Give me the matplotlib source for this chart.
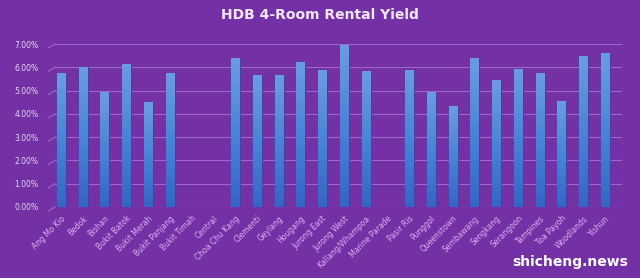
import matplotlib
matplotlib.use("Agg")
import matplotlib.pyplot as plt
from matplotlib.transforms import blended_transform_factory
from matplotlib.colors import LinearSegmentedColormap
import numpy as np

categories = ["Ang Mo Kio", "Bedok", "Bishan", "Bukit Batok", "Bukit Merah", "Bukit Panjang",
              "Bukit Timah", "Central", "Choa Chu Kang", "Clementi", "Geylang", "Hougang",
              "Jurong East", "Jurong West", "Kallang/Whampoa", "Marine Parade", "Pasir Ris",
              "Punggol", "Queenstown", "Sembawang", "Sengkang", "Serangoon", "Tampines",
              "Toa Payoh", "Woodlands", "Yishun"]
yields = [0.0572, 0.0601, 0.0490, 0.0612, 0.0449, 0.0575,
          0.0, 0.0, 0.0636, 0.0563, 0.0563, 0.0622,
          0.0586, 0.0693, 0.0584, 0.0, 0.0586,
          0.0490, 0.0433, 0.0636, 0.0545, 0.0591, 0.0575,
          0.0451, 0.0648, 0.0659]
yticks = [0.0, 0.01, 0.02, 0.03, 0.04, 0.05, 0.06, 0.07]
ytick_labels = ["0.00%", "1.00%", "2.00%", "3.00%", "4.00%", "5.00%", "6.00%", "7.00%"]

bg = "#7331A5"
fig = plt.figure(figsize=(6.4, 2.78), dpi=100, facecolor=bg)
ax = fig.add_axes([55/640, 1-207/278, 567/640, (207-44)/278])
ax.set_facecolor(bg)

x = np.arange(len(categories))
w = 0.38
bars = ax.bar(x, yields, width=w, color="#4A84D8", zorder=3, linewidth=0)
ax.bar(x + w/2 + 0.04, yields, width=0.08, color="#2A4FA0", zorder=3, linewidth=0)

# vertical gradient on bar fronts (lighter top, deeper bottom)
cmap = LinearSegmentedColormap.from_list("barg", ["#3565C6", "#4A84D8", "#6C9BE2"])
grad = np.linspace(0, 1, 64).reshape(-1, 1)
for b in bars:
    h = b.get_height()
    if h <= 0:
        continue
    x0 = b.get_x()
    ax.imshow(grad, extent=[x0, x0 + b.get_width(), 0, h], origin="lower",
              aspect="auto", cmap=cmap, zorder=3.5, interpolation="bilinear")

ax.set_xlim(-0.28, 25.78)
ax.set_ylim(0, 0.07)

# gridlines and perspective stubs
for v in yticks:
    ax.axhline(v, color="#9C67C9", lw=0.8, zorder=1)
trans = blended_transform_factory(ax.transAxes, ax.transData)
for v in yticks:
    ax.plot([-7/567, 0], [v - 0.0018, v], color="#9C67C9", lw=0.8,
            transform=trans, clip_on=False, zorder=1)

for s in ax.spines.values():
    s.set_visible(False)

ax.set_yticks(yticks)
ax.set_yticklabels(ytick_labels, fontsize=5.5, color="#E6D6F2")
ax.tick_params(axis="y", length=0, pad=12)
ax.set_xticks(x)
ax.set_xticklabels(categories, rotation=45, ha="right", rotation_mode="anchor",
                   fontsize=5.5, color="#D9B3F2")
ax.tick_params(axis="x", length=0, pad=5)

fig.text(0.5, 1-15/278, "HDB 4-Room Rental Yield", ha="center", va="center",
         fontsize=10, fontweight="bold", color="#F2E6F7")
fig.text(628/640, 1-262/278, "shicheng.news", ha="right", va="center",
         fontsize=10, fontweight="bold", color="#FFFFFF")

fig.savefig("out.png", dpi=100, facecolor=bg)
